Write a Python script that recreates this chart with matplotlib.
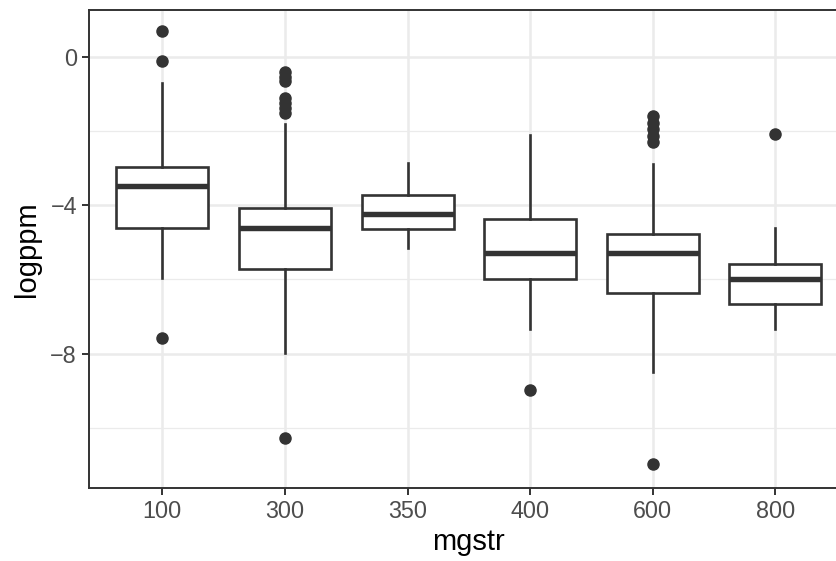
import matplotlib
matplotlib.use("Agg")
import matplotlib.pyplot as plt

plt.rcParams['font.family'] = ['Liberation Sans', 'DejaVu Sans']

# box statistics (logppm per mgstr group)
groups = ["100", "300", "350", "400", "600", "800"]
whislo = [-5.96, -7.98, -5.14, -7.35, -8.50, -7.35]
q1 = [-4.60, -5.71, -4.63, -5.98, -6.37, -6.65]
med = [-3.49, -4.60, -4.23, -5.29, -5.29, -5.98]
q3 = [-2.96, -4.07, -3.71, -4.37, -4.78, -5.57]
whishi = [-0.70, -1.80, -2.86, -2.09, -2.88, -4.60]
outliers = [
    [0.70, -0.11, -7.58],
    [-0.41, -0.54, -0.65, -1.10, -1.23, -1.37, -1.51, -10.27],
    [],
    [-8.97],
    [-1.60, -1.77, -1.95, -2.12, -2.30, -10.98],
    [-2.07],
]

dark = "#333333"
grid = "#EBEBEB"

stats = []
for i in range(len(groups)):
    stats.append(dict(label=groups[i], whislo=whislo[i], q1=q1[i], med=med[i],
                      q3=q3[i], whishi=whishi[i], fliers=outliers[i]))

fig = plt.figure(figsize=(8.36, 5.61), dpi=100)
# panel runs past the right edge, like the reference
ax = fig.add_axes([0.1061, 0.130, 0.9095, 0.852])

ax.bxp(stats, positions=range(1, len(groups) + 1), widths=0.75,
       showcaps=False, patch_artist=True,
       boxprops=dict(facecolor="white", edgecolor=dark, linewidth=1.9),
       whiskerprops=dict(color=dark, linewidth=1.9),
       medianprops=dict(color=dark, linewidth=3.9, solid_capstyle="butt"),
       flierprops=dict(marker="o", markerfacecolor=dark, markeredgecolor=dark,
                       markersize=8.0, linestyle="none"),
       zorder=3)

ax.set_xlim(0.4, len(groups) + 0.6)
ax.set_ylim(-11.63, 1.27)
ax.set_xticks(range(1, len(groups) + 1))
ax.set_xticklabels(groups)
ax.set_yticks([0, -4, -8])
ax.set_yticklabels(["0", "\u22124", "\u22128"])
ax.set_yticks([-2, -6, -10], minor=True)

ax.grid(True, which="major", color=grid, linewidth=1.8, zorder=0)
ax.grid(True, which="minor", axis="y", color=grid, linewidth=0.9, zorder=0)
ax.set_axisbelow(True)

for s in ax.spines.values():
    s.set_color(dark)
    s.set_linewidth(1.4)

ax.tick_params(axis="both", which="major", colors=dark, length=5, width=1.4,
               labelsize=16.8, labelcolor="#4D4D4D", pad=3.5)
ax.tick_params(axis="y", which="minor", length=0)

ax.set_xlabel("mgstr", fontsize=21, color="black", labelpad=4)
ax.set_ylabel("logppm", fontsize=21, color="black", labelpad=7)

fig.savefig("out.png", dpi=100)
